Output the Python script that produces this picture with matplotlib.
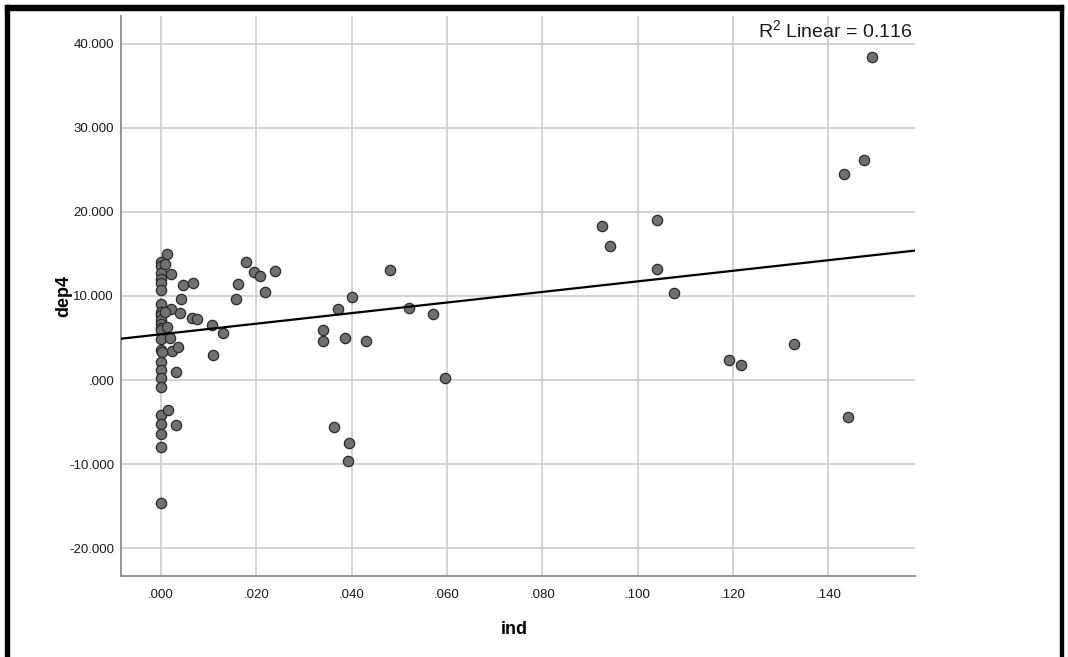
import matplotlib
matplotlib.use('Agg')
import matplotlib.pyplot as plt
import numpy as np
from matplotlib.patches import Rectangle
from matplotlib.ticker import FuncFormatter


# 数据
ind_zero = [0.0] * 24
dep_zero = [14.1, 13.6, 12.7, 12.0, 11.5, 10.7, 9.1, 8.1, 7.7, 7.1, 6.7, 6.2,
            5.9, 4.9, 3.6, 2.2, 1.2, 0.2, -0.8, -4.2, -5.2, -6.4, -7.9, -14.6]

ind_near = [0.0012, 0.0008, 0.0020, 0.0047, 0.0068, 0.0041, 0.0021, 0.0040,
            0.0008, 0.0066, 0.0075, 0.0106, 0.0012, 0.0019, 0.0022, 0.0036,
            0.0003, 0.0031, 0.0131, 0.0108, 0.0015, 0.0031,
            0.0178, 0.0196, 0.0208, 0.0239, 0.0162, 0.0219, 0.0157]
dep_near = [15.0, 13.8, 12.6, 11.3, 11.6, 9.6, 8.4, 8.0,
            8.1, 7.4, 7.3, 6.5, 6.3, 5.0, 3.45, 3.9,
            3.3, 1.0, 5.6, 3.0, -3.5, -5.4,
            14.0, 12.9, 12.4, 13.0, 11.4, 10.5, 9.6]

ind_mid = [0.0480, 0.0400, 0.0371, 0.0521, 0.0571, 0.0340, 0.0340, 0.0387,
           0.0431, 0.0596, 0.0363, 0.0394, 0.0393]
dep_mid = [13.1, 9.9, 8.4, 8.6, 7.9, 6.0, 4.6, 5.0,
           4.6, 0.2, -5.6, -7.5, -9.6]

ind_far = [0.0926, 0.0943, 0.1041, 0.1040, 0.1076, 0.1192, 0.1216, 0.1328,
           0.1442, 0.1491, 0.1475, 0.1432]
dep_far = [18.3, 15.9, 19.05, 13.2, 10.3, 2.4, 1.75, 4.25,
           -4.4, 38.4, 26.2, 24.5]

# 拟合线
fit_intercept = 5.45
fit_slope = 62.9

r2_text = 'R$^{2}$ Linear = 0.116'
xticks = np.arange(0, 0.141, 0.02)
yticks = np.arange(-20, 41, 10)

ind = np.array(ind_zero + ind_near + ind_mid + ind_far)
dep = np.array(dep_zero + dep_near + dep_mid + dep_far)


plt.rcParams['font.family'] = ['Liberation Sans', 'DejaVu Sans']
plt.rcParams['mathtext.fontset'] = 'custom'
plt.rcParams['mathtext.rm'] = 'Liberation Sans'
plt.rcParams['mathtext.it'] = 'Liberation Sans'

fig = plt.figure(figsize=(10.68, 6.57), dpi=100)
ax = fig.add_axes([121/1068, 1-576/657, 794/1068, 560/657])

xmin, xmax = -0.0084, 0.1582
ax.set_xlim(xmin, xmax)
ax.set_ylim(-23.3, 43.3)

# 网格
ax.set_xticks(xticks)
ax.set_yticks(yticks)
ax.grid(True, color='#cfcfcf', lw=1.3)
ax.set_axisbelow(True)

for s in ['top', 'right']:
    ax.spines[s].set_visible(False)
for s in ['left', 'bottom']:
    ax.spines[s].set_color('#8c8c8c')
    ax.spines[s].set_linewidth(1.3)

def fmt(v, pos):
    s = '%.3f' % v
    if abs(v) < 1:
        s = s.replace('0.', '.', 1)
    return s

ax.xaxis.set_major_formatter(FuncFormatter(fmt))
ax.yaxis.set_major_formatter(FuncFormatter(fmt))
ax.tick_params(axis='both', length=0, labelsize=9.5, colors='#1a1a1a')
ax.tick_params(axis='y', pad=5)
ax.tick_params(axis='x', pad=9)

# 散点
ax.scatter(ind, dep, s=55, c='#707070', edgecolors='#2b2b2b', linewidths=0.9,
           zorder=3)

xs = np.array([xmin, xmax])
ax.plot(xs, fit_intercept + fit_slope*xs, color='black', lw=1.6, zorder=4)

ax.text(0.996, 0.995, r2_text, transform=ax.transAxes, ha='right', va='top',
        fontsize=14, color='#1a1a1a')

ax.set_xlabel('ind', fontsize=13, fontweight='bold')
ax.set_ylabel('dep4', fontsize=13, fontweight='bold')
ax.xaxis.set_label_coords(0.495, -0.08)
ax.yaxis.set_label_coords(-0.061, 0.5)

# 窗口黑边
W, H = 1068, 657
fig.patches.append(Rectangle((5/W, 1-10/H), 1058/W, 5/H, color='black',
                             transform=fig.transFigure, figure=fig))
fig.patches.append(Rectangle((5/W, 0), 4/W, 1-5/H, color='black',
                             transform=fig.transFigure, figure=fig))
fig.patches.append(Rectangle((1060/W, 0), 3/W, 1-5/H, color='black',
                             transform=fig.transFigure, figure=fig))

fig.savefig('out.png', dpi=100)
